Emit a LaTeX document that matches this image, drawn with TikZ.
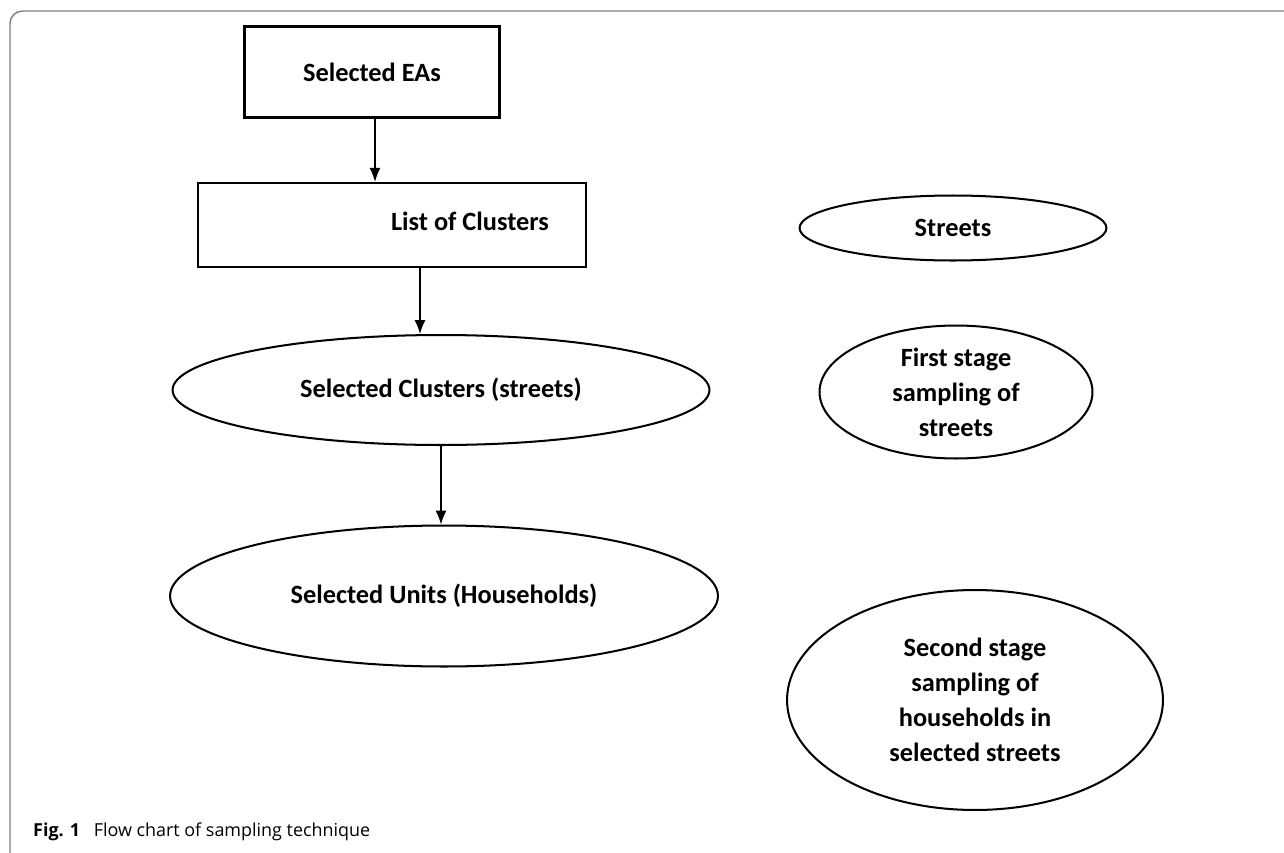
\documentclass[tikz,border=0pt]{standalone}
\usepackage{fontspec}
\setmainfont{Carlito}
\newfontfamily\capfont{Open Sans}
\usetikzlibrary{shapes.geometric,arrows.meta}
\begin{document}
\begin{tikzpicture}[x=0.02cm, y=-0.02cm, >={Latex[length=0.28cm,width=0.22cm]},
    every node/.style={font=\fontsize{15}{20}\selectfont\bfseries, align=center},
    box/.style={draw, line width=1.3pt, inner sep=0pt},
    oval/.style={draw, ellipse, line width=1.15pt, inner sep=0pt},
    link/.style={->, line width=0.8pt}]
				% 0. page size and frame
				\useasboundingbox (0,0) rectangle (1284,852);
				\draw[gray, line width=0.8pt, rounded corners=0.25cm] (10,11) rectangle (1320,875);
				
				% 1. left column: boxes and ovals
				\node[box, minimum width=5.1cm, minimum height=1.82cm] (ea) at (372,72) {Selected EAs};
				\node[box, minimum width=7.76cm, minimum height=1.68cm] (list) at (392,225)
				  {\hspace*{3.12cm}\raisebox{0.16cm}{List of Clusters}};
				\node[oval, minimum width=10.74cm, minimum height=2.2cm] (clus) at (441,390) {Selected Clusters (streets)};
				\node[oval, minimum width=10.96cm, minimum height=2.82cm] (units) at (444,596) {Selected Units (Households)};
				
				% 2. right column: ovals
				\node[oval, minimum width=6.14cm, minimum height=1.3cm] (streets) at (953,228) {Streets};
				\node[oval, minimum width=5.46cm, minimum height=2.66cm] (first) at (956,392) {First stage\\sampling of\\streets};
				\node[oval, minimum width=7.52cm, minimum height=4.4cm] (second) at (975,700) {Second stage\\sampling of\\households in\\selected streets};
				
				% 3. arrows
				\draw[link] ([xshift=0.06cm]ea.south) -- ([xshift=0.06cm]ea.south |- list.north);
				\draw[link] ([xshift=0.56cm]list.south) -- ([xshift=0.56cm]list.south |- clus.north);
				\draw[link] (clus.south) -- (clus.south |- units.north);
				
				% 4. caption
				\node[anchor=base west, font=\capfont\fontsize{10.2}{12}\selectfont] (cap) at (27,836)
				  {\textbf{Fig. 1}\hspace{0.5em} Flow chart of sampling technique};
			\end{tikzpicture}
\end{document}
